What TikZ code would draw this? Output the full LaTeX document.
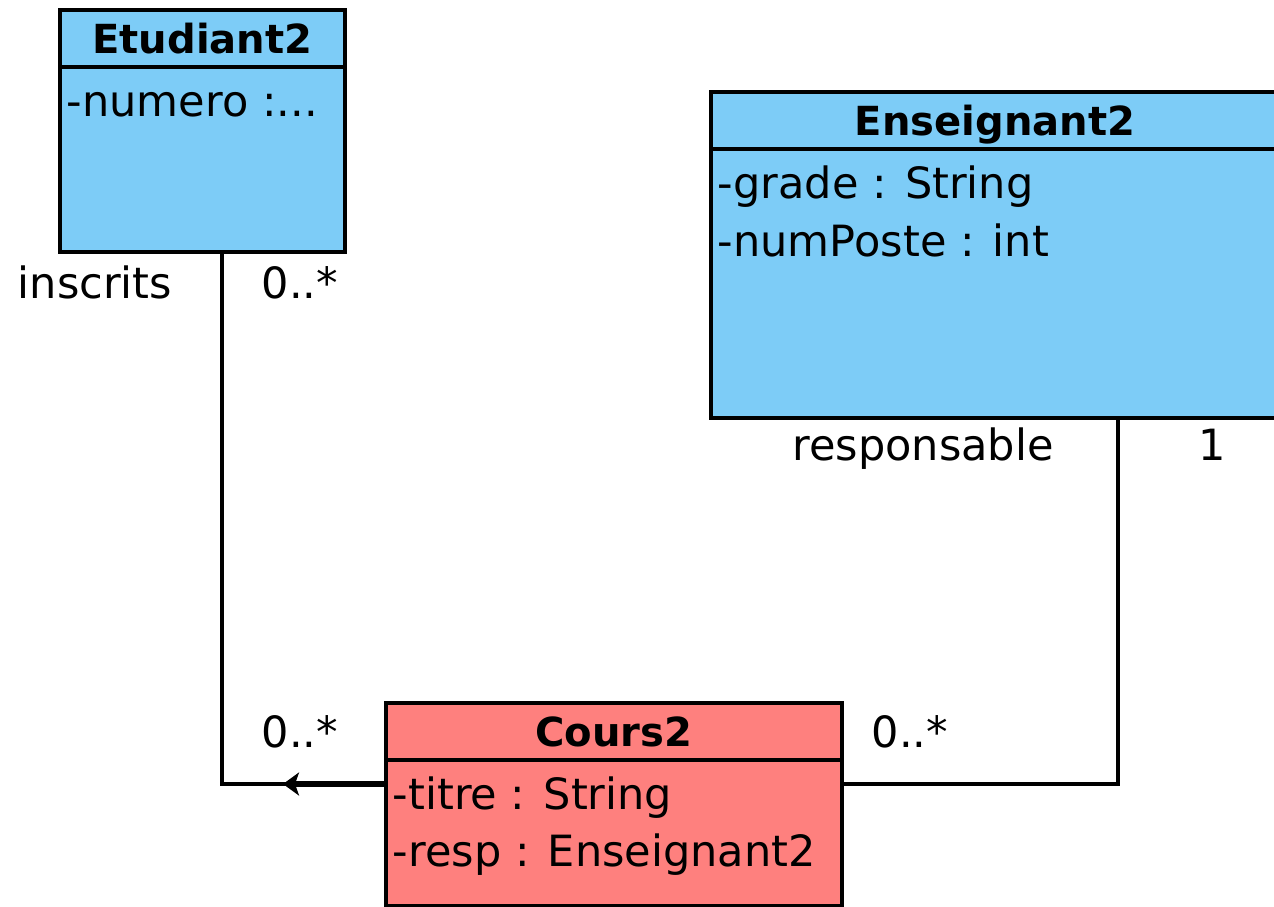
\documentclass[tikz,border=0pt]{standalone}
\usepackage{fontspec}
\setmainfont{DejaVu Sans}
\usetikzlibrary{positioning,calc,arrows.meta}
\definecolor{classblue}{RGB}{125,204,247}
\definecolor{classred}{RGB}{254,128,126}
\begin{document}
\begin{tikzpicture}[
    classhead/.style={draw,line width=2pt,fill=#1,outer sep=0pt,inner sep=0pt,
      minimum height=1.14cm,text height=16.5pt,text depth=0pt,
      font=\fontsize{22.8}{27}\selectfont\bfseries},
    classbody/.style={draw,line width=2pt,fill=#1,outer sep=0pt,inner sep=0pt},
    attr/.style={anchor=base west,inner sep=0pt,font=\fontsize{24.5}{29}\selectfont},
    role/.style={anchor=base,inner sep=0pt,font=\fontsize{24.5}{29}\selectfont},
    assoc/.style={line width=2pt},
    navi/.style={line width=3pt,-{Stealth[length=0.32cm,width=0.46cm,inset=0.08cm]}}]
  \useasboundingbox (0,0) rectangle (25.48,-18.12);

  % classes
  \node[classhead=classblue,minimum width=5.7cm,anchor=north west] (etuhead) at (1.2,-0.2) {Etudiant2};
  \node[classbody=classblue,minimum width=5.7cm,minimum height=3.7cm,below=0pt of etuhead] (etubody) {};
  \node[attr] (etunum) at ($(etubody.north west)+(0.13,-0.98)$) {-numero :...};

  \node[classhead=classblue,minimum width=11.36cm,anchor=north west] (enshead) at (14.22,-1.84) {Enseignant2};
  \node[classbody=classblue,minimum width=11.36cm,minimum height=5.38cm,below=0pt of enshead] (ensbody) {};
  \node[attr] (ensgrade) at ($(ensbody.north west)+(0.13,-0.98)$) {-grade : String};
  \node[attr] (ensposte) at ($(ensgrade.base west)+(0,-1.16)$) {-numPoste : int};

  \node[classhead=classred,minimum width=9.12cm,anchor=north west] (crshead) at (7.72,-14.06) {Cours2};
  \node[classbody=classred,minimum width=9.12cm,minimum height=2.92cm,below=0pt of crshead] (crsbody) {};
  \node[attr] (crstitre) at ($(crsbody.north west)+(0.13,-0.98)$) {-titre : String};
  \node[attr] (crsresp) at ($(crstitre.base west)+(0,-1.14)$) {-resp : Enseignant2};

  % associations
  \coordinate (etuout) at ($(etubody.south west)+(3.24,0)$);
  \coordinate (crsin) at ($(crsbody.north west)+(0,-0.48)$);
  \coordinate (navtip) at ($(crsin)+(-2.06,0)$);
  \coordinate (ensout) at ($(ensbody.south west)+(8.14,0)$);
  \coordinate (crsout) at ($(crsbody.north east)+(0,-0.48)$);
  \draw[assoc] (etuout) |- (crsin);
  \draw[navi] (crsin) -- (navtip);
  \draw[assoc] (ensout) |- (crsout);

  \node[role] (etuname) at (1.9,-5.96) {inscrits};
  \node[role] (etumult) at (6.0,-5.96) {0..*};
  \node[role] (crsmultl) at (6.0,-14.94) {0..*};
  \node[role] (ensname) at (18.46,-9.2) {responsable};
  \node[role] (ensmult) at (24.24,-9.2) {1};
  \node[role] (crsmultr) at (18.2,-14.94) {0..*};
\end{tikzpicture}
\end{document}
